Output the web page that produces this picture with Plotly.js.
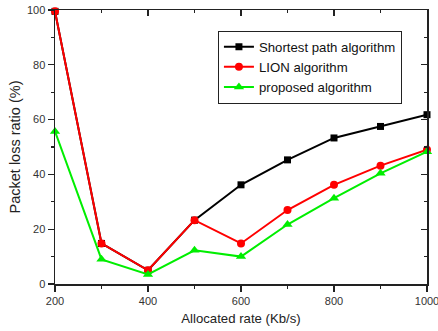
<!DOCTYPE html>
<html><head><meta charset="utf-8">
<script src="https://cdn.plot.ly/plotly-3.0.1.min.js"></script>
<style>html,body{margin:0;padding:0;background:#fff;}#chart{width:438px;height:331px;}</style>
</head><body><div id="chart"></div>
<script>
const rates = [200, 300, 400, 500, 600, 700, 800, 900, 1000];
const shortestPath = [99.5, 14.8, 5.0, 23.3, 36.2, 45.3, 53.3, 57.5, 61.8];
const lion = [99.5, 14.8, 5.0, 23.3, 14.8, 27.0, 36.2, 43.2, 49.0];
const proposed = [55.7, 9.0, 3.5, 12.3, 10.0, 21.7, 31.3, 40.4, 48.3];
const xTicks = [200, 400, 600, 800, 1000];
const yTicks = [0, 20, 40, 60, 80, 100];

const fam = 'Liberation Sans, Arial, sans-serif';
const font = {family: fam, size: 11, color: '#333'};
const traces = [
  {x: rates, y: shortestPath, name: 'Shortest path algorithm', mode: 'lines+markers',
   line: {color: '#000', width: 2}, marker: {symbol: 'square', size: 7, color: '#000'}, cliponaxis: false},
  {x: rates, y: lion, name: 'LION algorithm', mode: 'lines+markers',
   line: {color: '#ff0000', width: 2}, marker: {symbol: 'circle', size: 8, color: '#ff0000'}, cliponaxis: false},
  {x: rates, y: proposed, name: 'proposed algorithm', mode: 'lines+markers',
   line: {color: '#00ee00', width: 2}, marker: {symbol: 'triangle-up', size: 9, color: '#00ee00'}, cliponaxis: false},
  {x: rates, y: proposed, xaxis: 'x2', yaxis: 'y2', showlegend: false, hoverinfo: 'skip',
   mode: 'lines', line: {color: 'rgba(0,0,0,0)', width: 0}}
];
const axisCommon = {showgrid: false, zeroline: false, showline: true, linecolor: '#222', linewidth: 1.5,
  tickcolor: '#222', ticklen: 6, tickwidth: 1.2, tickfont: font, ticklabeloverflow: 'allow'};
const layout = {
  width: 438, height: 331,
  margin: {l: 55, r: 11, t: 10, b: 47},
  paper_bgcolor: '#fff', plot_bgcolor: '#fff',
  font: font,
  showlegend: true,
  legend: {x: 0.438, y: 0.925, xanchor: 'left', yanchor: 'top', bordercolor: '#222', borderwidth: 1,
    bgcolor: '#fff', font: {family: fam, size: 13.2, color: '#111'},
    tracegroupgap: 0, itemwidth: 30},
  xaxis: Object.assign({}, axisCommon, {range: [200, 1000], tickvals: xTicks, ticks: 'outside',
    minor: {dtick: 100, ticks: 'outside', ticklen: 3, tickcolor: '#222'},
    title: {text: 'Allocated rate (Kb/s)', font: {family: fam, size: 13.2, color: '#222'}, standoff: 8}}),
  yaxis: Object.assign({}, axisCommon, {range: [0, 100], tickvals: yTicks, ticks: 'outside',
    minor: {dtick: 10, ticks: 'outside', ticklen: 3, tickcolor: '#222'},
    title: {text: 'Packet loss ratio (%)', font: {family: fam, size: 14.5, color: '#222'}, standoff: 3}}),
  xaxis2: Object.assign({}, axisCommon, {range: [200, 1000], overlaying: 'x', side: 'top', anchor: 'y2',
    tickvals: xTicks, ticks: 'inside', showticklabels: false,
    minor: {dtick: 100, ticks: 'inside', ticklen: 3, tickcolor: '#222'}}),
  yaxis2: Object.assign({}, axisCommon, {range: [0, 100], overlaying: 'y', side: 'right', anchor: 'x2',
    tickvals: yTicks, ticks: 'inside', showticklabels: false,
    minor: {dtick: 10, ticks: 'inside', ticklen: 3, tickcolor: '#222'}})
};
Plotly.newPlot('chart', traces, layout, {displayModeBar: false, staticPlot: true});
</script></body></html>
